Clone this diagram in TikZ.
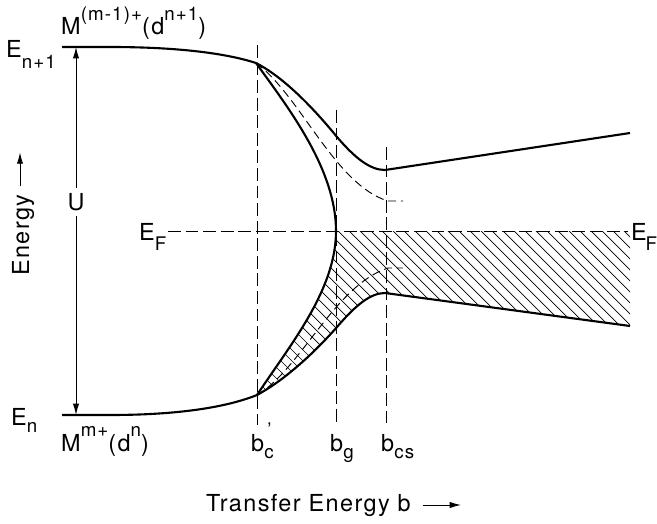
\documentclass[tikz,border=0pt]{standalone}
\usepackage{fontspec}
\setmainfont{TeX Gyre Heros}[LetterSpace=6]
\usetikzlibrary{arrows.meta,positioning}
\newcommand{\supt}[1]{\raisebox{0.62em}{\fontsize{16}{16}\selectfont #1}}
\newcommand{\subt}[2][0.3em]{\raisebox{-#1}{\fontsize{16}{16}\selectfont #2}}
\tikzset{
  lbl/.style={inner sep=0pt,font=\fontsize{20}{24}\selectfont},
  band/.style={line width=1.8pt,line join=round},
  guide/.style={line width=0.8pt,dash pattern=on 11pt off 4pt},
  aux/.style={line width=0.8pt,dash pattern=on 7pt off 4pt},
  hatch/.style={line width=0.6pt},
  axisarrow/.style={line width=0.8pt,-{Latex[length=3.4mm,width=1.9mm]}}
}

\begin{document}
\begin{tikzpicture}[x=0.3mm,y=-0.3mm]
  \useasboundingbox (0,0) rectangle (657,523);
  \coordinate (top) at (256,63);
  \coordinate (bot) at (257,395);
  \coordinate (gap) at (336,231);
  \coordinate (cbmin) at (385,170);
  \coordinate (vbmax) at (385,293);
  \coordinate (utop) at (76,47);
  \coordinate (ubot) at (76,415);

  % hatched occupied states
  \begin{scope}
    \clip (bot) .. controls (290,345) and (336,290) .. (gap) -- (630,231) -- (630,326) -- (vbmax)
      .. controls (370,293) and (355,306) .. (337,327) .. controls (315,352) and (285,380) .. (bot) -- cycle;
    \foreach \k in {0,...,50}
      \draw[hatch] ({90+11*\k},225) -- ++(180,180);
  \end{scope}

  % guides
  \draw[guide] (257,45) -- (257,425);
  \draw[guide] (336,110) -- (336,425);
  \draw[guide] (386,147) -- (386,425);
  \draw[guide] (168,231) -- (628,231);

  % levels and bands
  \draw[band] (62,47) -- (110,47) .. controls (170,47) and (222,52) .. (top);
  \draw[band] (62,415) -- (110,415) .. controls (170,415) and (222,409) .. (bot);
  \draw[band] (top) .. controls (285,78) and (315,110) .. (337,137) .. controls (355,158) and (370,170) .. (cbmin) -- (630,133);
  \draw[band] (top) .. controls (290,110) and (336,170) .. (gap) .. controls (336,290) and (290,345) .. (bot);
  \draw[band] (bot) .. controls (285,380) and (315,352) .. (337,327) .. controls (355,306) and (370,293) .. (vbmax) -- (630,326);
  \draw[aux] (top) .. controls (300,95) and (335,185) .. (388,201) -- (403,201);
  \draw[aux] (bot) .. controls (300,370) and (335,285) .. (388,268) -- (403,268);

  % labels
  \node[lbl,anchor=base west] (mtop) at (61,35) {M\supt{(m-1)+}(d\supt{n+1})};
  \node[lbl,anchor=base west] (enp1) at (6,58) {E\subt[0.45em]{n+1}};
  \node[lbl,anchor=base west] (en) at (11,425) {E\subt{n}};
  \node[lbl,anchor=base west] (mbot) at (61,451) {M\supt{m+}(d\supt{n})};
  \node[lbl,inner sep=1.5mm] (u) at (76,202) {U};
  \draw[axisarrow] (u) -- (utop);
  \draw[axisarrow] (u) -- (ubot);
  \node[lbl,anchor=base west] (efl) at (139,240) {E\subt[0.45em]{F}};
  \node[lbl,anchor=base west] (efr) at (631,240) {E\kern-1pt\subt[0.45em]{F}};
  \node[lbl,anchor=base west] (bc) at (251,451) {b\rlap{\supt{\,'}}\subt{c}};
  \node[lbl,anchor=base west] (bg) at (330,451) {b\subt{g}};
  \node[lbl,anchor=base west] (bcs) at (381,451) {b\subt{cs}};
  \node[lbl,anchor=base west] (xlab) at (206,511) {Transfer Energy b};
  \draw[axisarrow] ([shift={(12,-6)}]xlab.base east) -- ++(38,0);
  \node[lbl,rotate=90,anchor=base west] (ylab) at (29,276) {Energy};
  \draw[axisarrow] ([shift={(-9,-8)}]ylab.base east) -- ++(0,-34);
\end{tikzpicture}
\end{document}
